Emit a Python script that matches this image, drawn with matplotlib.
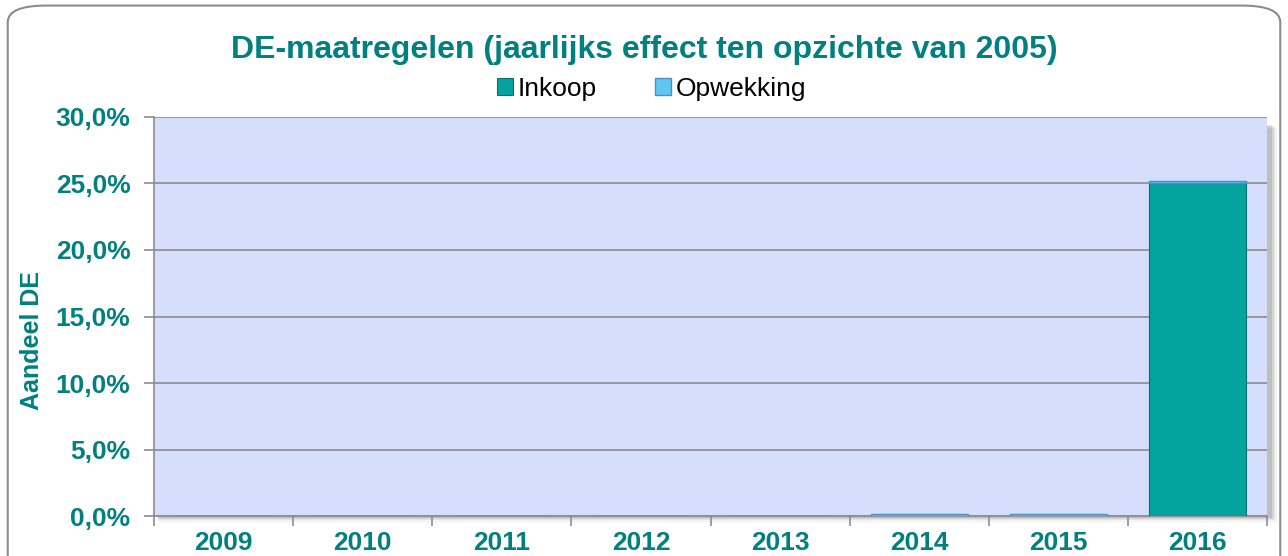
import matplotlib.pyplot as plt
from matplotlib.patches import FancyBboxPatch, Rectangle
from matplotlib.ticker import FuncFormatter

years = ["2009", "2010", "2011", "2012", "2013", "2014", "2015", "2016"]
inkoop = [0.0, 0.0, 0.0, 0.0, 0.0, 0.0, 0.0, 25.0]
opwekking = [0.0, 0.0, 0.0, 0.0, 0.0, 0.12, 0.12, 0.15]

teal = "#008080"
plt.rcParams["font.family"] = ["Liberation Sans", "DejaVu Sans"]

fig = plt.figure(figsize=(12.88, 5.56), dpi=100)
fig.patches.append(FancyBboxPatch((0.006, -0.05), 0.988, 1.04,
                                  boxstyle="round,pad=0,rounding_size=0.03",
                                  transform=fig.transFigure, fc="white",
                                  ec="#8c8c8c", lw=1.5, zorder=-10))

ax_pos = [0.1196, 0.0719, 0.8641, 0.7177]
# soft shadow to the right/bottom of the plot area
for i, a in enumerate([0.10, 0.07, 0.05, 0.03, 0.015]):
    fig.patches.append(Rectangle((ax_pos[0] + 0.003, ax_pos[1] - 0.004 - i * 0.002),
                                 ax_pos[2] + 0.001 + i * 0.0012, ax_pos[3] - 0.01,
                                 transform=fig.transFigure, fc="black", ec="none",
                                 alpha=a, zorder=-5))

ax = fig.add_axes(ax_pos)
ax.set_facecolor("#D5DEFC")
x = range(len(years))
ax.bar(x, inkoop, width=0.7, color="#05A3A0", edgecolor="#0A6F70",
       lw=0.8, label="Inkoop", zorder=3)
ax.bar(x, opwekking, width=0.7, bottom=inkoop, color="#5FC8F0",
       edgecolor="#4A90C8", lw=1.0, label="Opwekking", zorder=3)

ax.set_xlim(-0.5, len(years) - 0.5)
ax.set_ylim(0, 30)
ax.set_yticks(range(0, 31, 5))
ax.yaxis.set_major_formatter(FuncFormatter(lambda v, p: f"{v:.1f}%".replace(".", ",")))
ax.set_xticks([i - 0.5 for i in range(len(years) + 1)], minor=False)
ax.set_xticklabels([])
ax.set_xticks(list(x), minor=True)
ax.set_xticklabels(years, minor=True)
ax.tick_params(axis="x", which="minor", length=0, pad=11)
ax.tick_params(axis="x", which="major", length=7, color="#8c8c8c", width=1.2)
ax.tick_params(axis="y", length=7, color="#8c8c8c", width=1.2, pad=10)
for lab in ax.get_xticklabels(minor=True) + ax.get_yticklabels():
    lab.set_color(teal)
    lab.set_fontweight("bold")
    lab.set_fontsize(19)
ax.grid(axis="y", color="#8c8c8c", lw=1.2, zorder=1)
for side in ["top", "right"]:
    ax.spines[side].set_visible(False)
for side in ["left", "bottom"]:
    ax.spines[side].set_color("#8c8c8c")
    ax.spines[side].set_linewidth(1.2)

ax.set_ylabel("Aandeel DE", color=teal, fontweight="bold", fontsize=18)
ax.yaxis.set_label_coords(-0.099, 0.44)
fig.text(0.5, 0.91, "DE-maatregelen (jaarlijks effect ten opzichte van 2005)",
         ha="center", va="center", color=teal, fontweight="bold", fontsize=23)
fig.legend(loc="center", bbox_to_anchor=(0.506, 0.84), ncol=2, frameon=False,
           fontsize=19, handlelength=0.6, handleheight=0.6, handletextpad=0.2,
           columnspacing=2.2, borderpad=0)

fig.savefig("out.png", dpi=100)
